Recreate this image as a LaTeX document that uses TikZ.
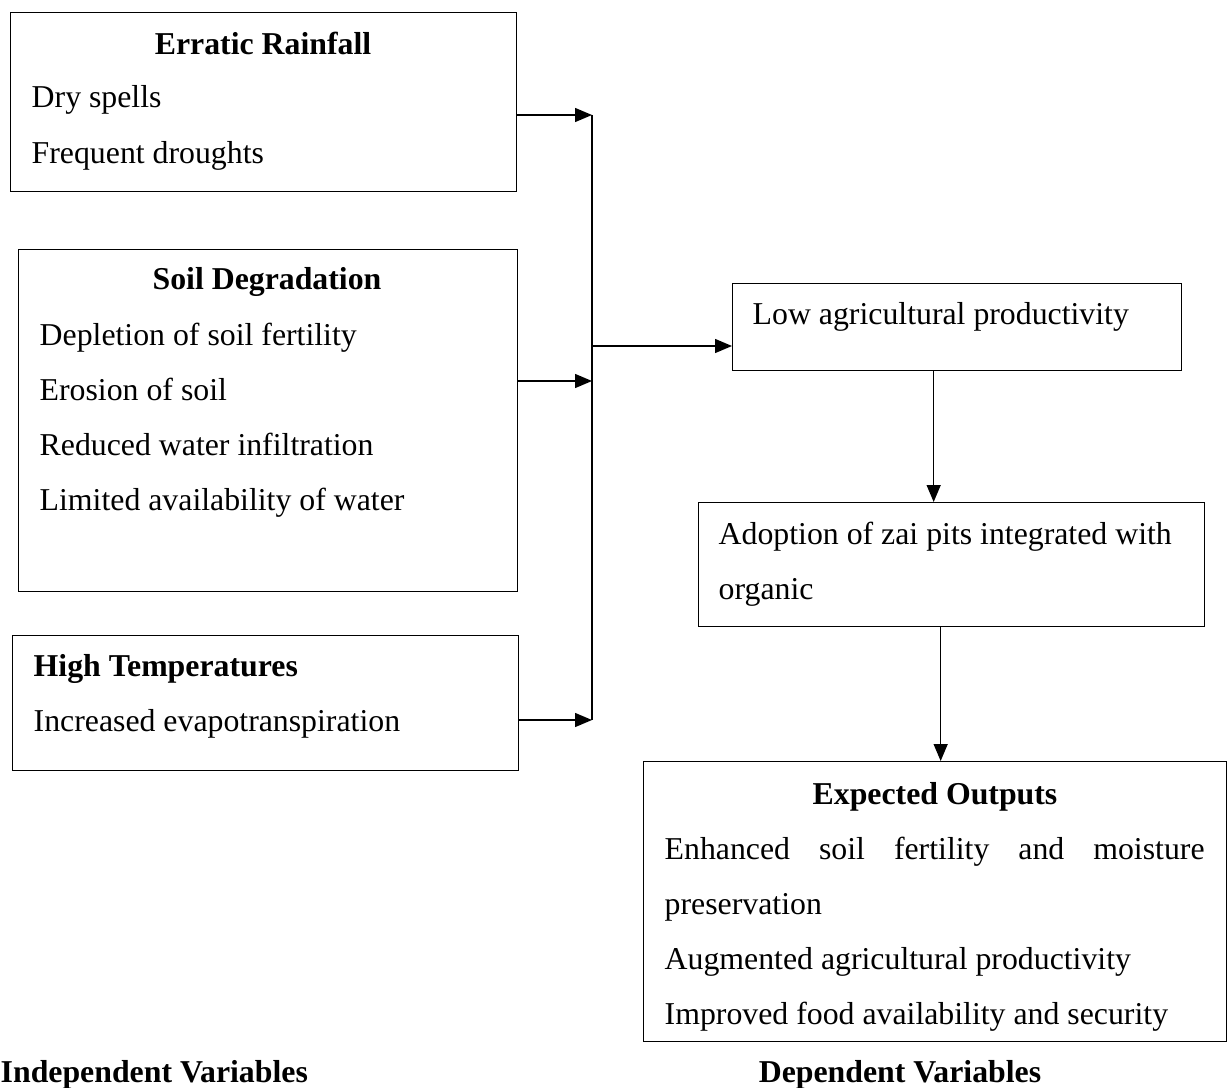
\documentclass[tikz,border=0pt]{standalone}
\usepackage{fontspec}
\setmainfont{Liberation Serif}
\usetikzlibrary{arrows.meta}

\begin{document}
\begin{tikzpicture}[x=0.02cm,y=-0.02cm,line width=0.8pt,
  >={Triangle[length=0.34cm,width=0.28cm]},
  box/.style={draw,anchor=north west,inner sep=0pt},
  item/.style={anchor=base west,inner sep=0pt,font=\fontsize{18.1}{22}\selectfont},
  head/.style={anchor=base,inner sep=0pt,font=\fontsize{18.1}{22}\selectfont\bfseries}]
  \useasboundingbox (0,0) rectangle (1230,1088);
  % independent variables
  \node[box,minimum width=10.12cm,minimum height=3.58cm] (rain) at (10,12) {};
  \node[head] (rainhead) at (263,55) {Erratic Rainfall};
  \foreach \t [count=\i] in {Dry spells,Frequent droughts}
    \node[item] (rain\i) at (31,53+55*\i) {\t};
  \node[box,minimum width=9.98cm,minimum height=6.84cm] (soil) at (18,249) {};
  \node[head] (soilhead) at (267,289) {Soil Degradation};
  \foreach \t [count=\i] in {Depletion of soil fertility,Erosion of soil,
      Reduced water infiltration,Limited availability of water}
    \node[item] (soil\i) at (39,290+55*\i) {\t};
  \node[box,minimum width=10.12cm,minimum height=2.70cm] (heat) at (12,635) {};
  \node[item,font=\fontsize{18.1}{22}\selectfont\bfseries] (heathead) at (33,676) {High Temperatures};
  \node[item] (heat1) at (33,731) {Increased evapotranspiration};
  % collecting line
  \coordinate (j1) at (592,115);
  \coordinate (j2) at (592,381);
  \coordinate (j3) at (592,720);
  \coordinate (jm) at (592,346);
  \draw[->] (rain.east |- j1) -- (j1);
  \draw[->] (soil.east |- j2) -- (j2);
  \draw[->] (heat.east |- j3) -- (j3);
  \draw (j1) -- (j3);
  % dependent variables
  \node[box,minimum width=8.98cm,minimum height=1.74cm] (low) at (732,283) {};
  \node[item] (low1) at (752,324) {Low agricultural productivity};
  \node[box,minimum width=10.12cm,minimum height=2.48cm] (zai) at (698,502) {};
  \node[item] (zai1) at (718,544) {Adoption of zai pits integrated with};
  \node[item] (zai2) at (718,599) {organic};
  \node[box,minimum width=11.66cm,minimum height=5.60cm] (outputs) at (643,761) {};
  \node[head] (outhead) at (935,804) {Expected Outputs};
  \node[item] (out1) at (664,859) {\makebox[10.8cm][s]{Enhanced soil fertility and moisture}};
  \foreach \t [count=\i from 2] in {preservation,Augmented agricultural productivity,
      Improved food availability and security}
    \node[item] (out\i) at (664,804+55*\i) {\t};
  \draw[->] (jm) -- (low.west |- jm);
  \draw[->] ([xshift=-0.47cm]low.south) -- ([xshift=-0.47cm]low.south |- zai.north);
  \draw[->] ([xshift=-0.22cm]zai.south) -- ([xshift=-0.22cm]zai.south |- outputs.north);
  % labels
  \node[item,font=\fontsize{18.1}{22}\selectfont\bfseries] (indep) at (0,1082) {Independent Variables};
  \node[head] (dep) at (900,1082) {Dependent Variables};
\end{tikzpicture}
\end{document}
